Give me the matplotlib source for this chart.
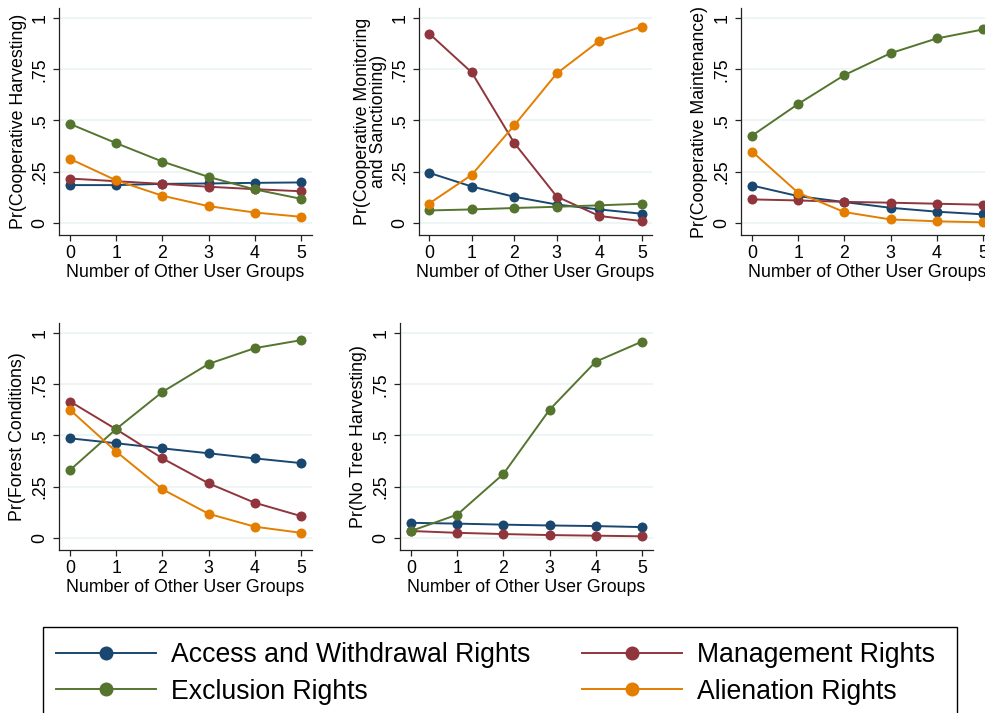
import matplotlib
matplotlib.use("Agg")
import matplotlib.pyplot as plt
from matplotlib.patches import Rectangle

plt.rcParams["font.family"] = ["Liberation Sans", "DejaVu Sans"]

# ---- Data ----
groups = [0, 1, 2, 3, 4, 5]
series_names = [
    "Access and Withdrawal Rights",
    "Management Rights",
    "Exclusion Rights",
    "Alienation Rights",
]
colors = ["#1a476f", "#90353b", "#55752f", "#e37e00"]

harvest_access = [0.184, 0.184, 0.190, 0.192, 0.195, 0.197]
harvest_mgmt = [0.216, 0.203, 0.190, 0.176, 0.164, 0.154]
harvest_excl = [0.483, 0.389, 0.299, 0.224, 0.163, 0.117]
harvest_alien = [0.312, 0.207, 0.132, 0.081, 0.050, 0.029]

monitor_access = [0.244, 0.177, 0.127, 0.089, 0.065, 0.044]
monitor_mgmt = [0.925, 0.735, 0.390, 0.128, 0.033, 0.008]
monitor_excl = [0.060, 0.065, 0.072, 0.078, 0.085, 0.093]
monitor_alien = [0.094, 0.234, 0.476, 0.730, 0.889, 0.959]

maint_access = [0.182, 0.130, 0.101, 0.073, 0.054, 0.041]
maint_mgmt = [0.114, 0.109, 0.102, 0.098, 0.093, 0.088]
maint_excl = [0.426, 0.581, 0.722, 0.829, 0.901, 0.945]
maint_alien = [0.348, 0.146, 0.052, 0.016, 0.007, 0.002]

forest_access = [0.486, 0.462, 0.437, 0.413, 0.388, 0.365]
forest_mgmt = [0.666, 0.530, 0.388, 0.266, 0.171, 0.106]
forest_excl = [0.331, 0.532, 0.713, 0.850, 0.927, 0.966]
forest_alien = [0.625, 0.421, 0.237, 0.117, 0.054, 0.024]

notree_access = [0.073, 0.069, 0.064, 0.060, 0.057, 0.052]
notree_mgmt = [0.033, 0.024, 0.018, 0.013, 0.010, 0.007]
notree_excl = [0.033, 0.113, 0.312, 0.626, 0.861, 0.959]
notree_alien = None  # not shown in this panel

y_ticks = [0, 0.25, 0.5, 0.75, 1]
y_ticklabels = ["0", ".25", ".5", ".75", "1"]
x_label = "Number of Other User Groups"

# panel: (ylabel, series, axes rect in pixels [left, top, width], label x)
W, H = 985, 713
panels = [
    ("Pr(Cooperative Harvesting)",
     [harvest_access, harvest_mgmt, harvest_excl, harvest_alien], (59, 8, 253), -0.162),
    ("Pr(Cooperative Monitoring\nand Sanctioning)",
     [monitor_access, monitor_mgmt, monitor_excl, monitor_alien], (419, 8, 233), -0.209),
    ("Pr(Cooperative Maintenance)",
     [maint_access, maint_mgmt, maint_excl, maint_alien], (741, 8, 253), -0.166),
    ("Pr(Forest Conditions)",
     [forest_access, forest_mgmt, forest_excl, forest_alien], (59, 323, 253), -0.166),
    ("Pr(No Tree Harvesting)",
     [notree_access, notree_mgmt, notree_excl, notree_alien], (400, 323, 253), -0.166),
]
AX_H = 227

fig = plt.figure(figsize=(W / 100, H / 100), dpi=100)
handles = []
for k, (ylabel, series, (left, top, width), lab_x) in enumerate(panels):
    ax = fig.add_axes([left / W, 1 - (top + AX_H) / H, width / W, AX_H / H])
    for vals, c in zip(series, colors):
        if vals is None:
            continue
        (ln,) = ax.plot(groups, vals, color=c, lw=1.4, marker="o", ms=7.2,
                        markeredgewidth=0, clip_on=False, zorder=3)
        if k == 0:
            handles.append(ln)
    ax.set_xlim(-0.24, 5.24)
    ax.set_ylim(-0.06, 1.05)
    ax.set_xticks(groups)
    ax.set_yticks(y_ticks)
    ax.set_yticklabels(y_ticklabels, rotation=90, va="center")
    ax.grid(axis="y", color="#eaf2f3", lw=1.1, zorder=0)
    ax.set_axisbelow(True)
    for s in ("top", "right"):
        ax.spines[s].set_visible(False)
    for s in ("left", "bottom"):
        ax.spines[s].set_color("#222222")
        ax.spines[s].set_linewidth(0.9)
    ax.tick_params(axis="both", length=4.5, width=0.9, color="#222222",
                   labelsize=12.8, pad=3)
    ax.set_xlabel(x_label, fontsize=12.8, labelpad=1)
    ax.set_ylabel(ylabel, fontsize=12.8, va="center", ha="center",
                  multialignment="center", linespacing=0.95)
    ax.yaxis.set_label_coords(lab_x, 0.5)

# legend frame extends past the bottom edge, as in the reference
fig.add_artist(Rectangle((43 / W, -0.05), (957 - 43) / W, (713 - 627) / H + 0.05,
                         transform=fig.transFigure, fill=False,
                         edgecolor="black", lw=1.0))
# row-major order: access, management / exclusion, alienation
order = [0, 2, 1, 3]
fig.legend([handles[i] for i in order], [series_names[i] for i in order],
           loc="upper left", ncol=2, frameon=False,
           bbox_to_anchor=(56 / W, 1 - 642 / H), borderaxespad=0, borderpad=0,
           fontsize=19.2, handlelength=3.75, handletextpad=0.56,
           columnspacing=1.95, labelspacing=0.4, markerscale=1.4)

fig.savefig("out.png", dpi=100, facecolor="white")
